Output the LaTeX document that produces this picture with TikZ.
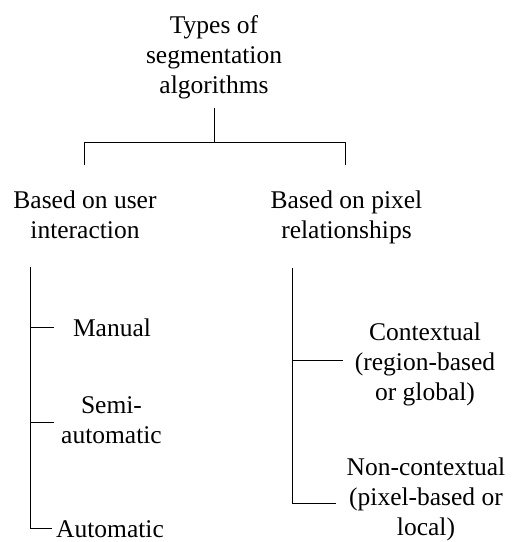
\documentclass[tikz,border=0pt]{standalone}
\usepackage{fontspec}
\setmainfont{Liberation Serif}
\begin{document}
\begin{tikzpicture}[x=1pt,y=-1pt,
  lbl/.style={align=center,inner sep=0pt,font=\fontsize{25.5}{30}\selectfont},
  ln/.style={line width=0.8pt}]
\useasboundingbox (0,0) rectangle (512,542);
% labels
\node[lbl] (t) at (214,57.5) {Types of\strut\\segmentation\strut\\algorithms\strut};
\node[lbl] (u) at (85,217.5) {Based on user\strut\\interaction\strut};
\node[lbl] (p) at (346.5,217.5) {Based on pixel\strut\\relationships\strut};
\node[lbl] (m) at (112,330) {Manual\strut};
\node[lbl] (s) at (111.5,422) {Semi-\strut\\automatic\strut};
\node[lbl] (a) at (110,529.5) {Automatic};
\node[lbl] (c) at (425,364) {Contextual\strut\\(region-based\strut\\or global)\strut};
\node[lbl] (n) at (426,499.5) {Non-contextual\strut\\(pixel-based or\strut\\local)\strut};
% junction coordinates
\coordinate (j) at (214,142);
\coordinate (jl) at (84,142);
\coordinate (jr) at (345,142);
\coordinate (dl) at (84,165);
\coordinate (dr) at (345,165);
\coordinate (lt) at (30,267);
\coordinate (lc) at (30,528);
\coordinate (mt) at (30,327);
\coordinate (rt) at (292,268);
\coordinate (rc) at (292,503);
\coordinate (ct) at (292,360);
% connectors
\draw[ln] ([yshift=-5pt]t.south) -- (j);
\draw[ln] (dl) -- (jl) -- (jr) -- (dr);
\draw[ln,shorten >=4pt] (lt) -- (lc) -- (lc -| a.west);
\draw[ln,shorten >=19pt] (mt) -- (mt -| m.west);
\draw[ln,shorten >=7.5pt] (lt |- s.west) -- (s.west);
\draw[ln,shorten >=12pt] (ct) -- (ct -| c.west);
\draw[ln,shorten >=10pt] (rt) -- (rc) -- (rc -| n.west);
\end{tikzpicture}
\end{document}
